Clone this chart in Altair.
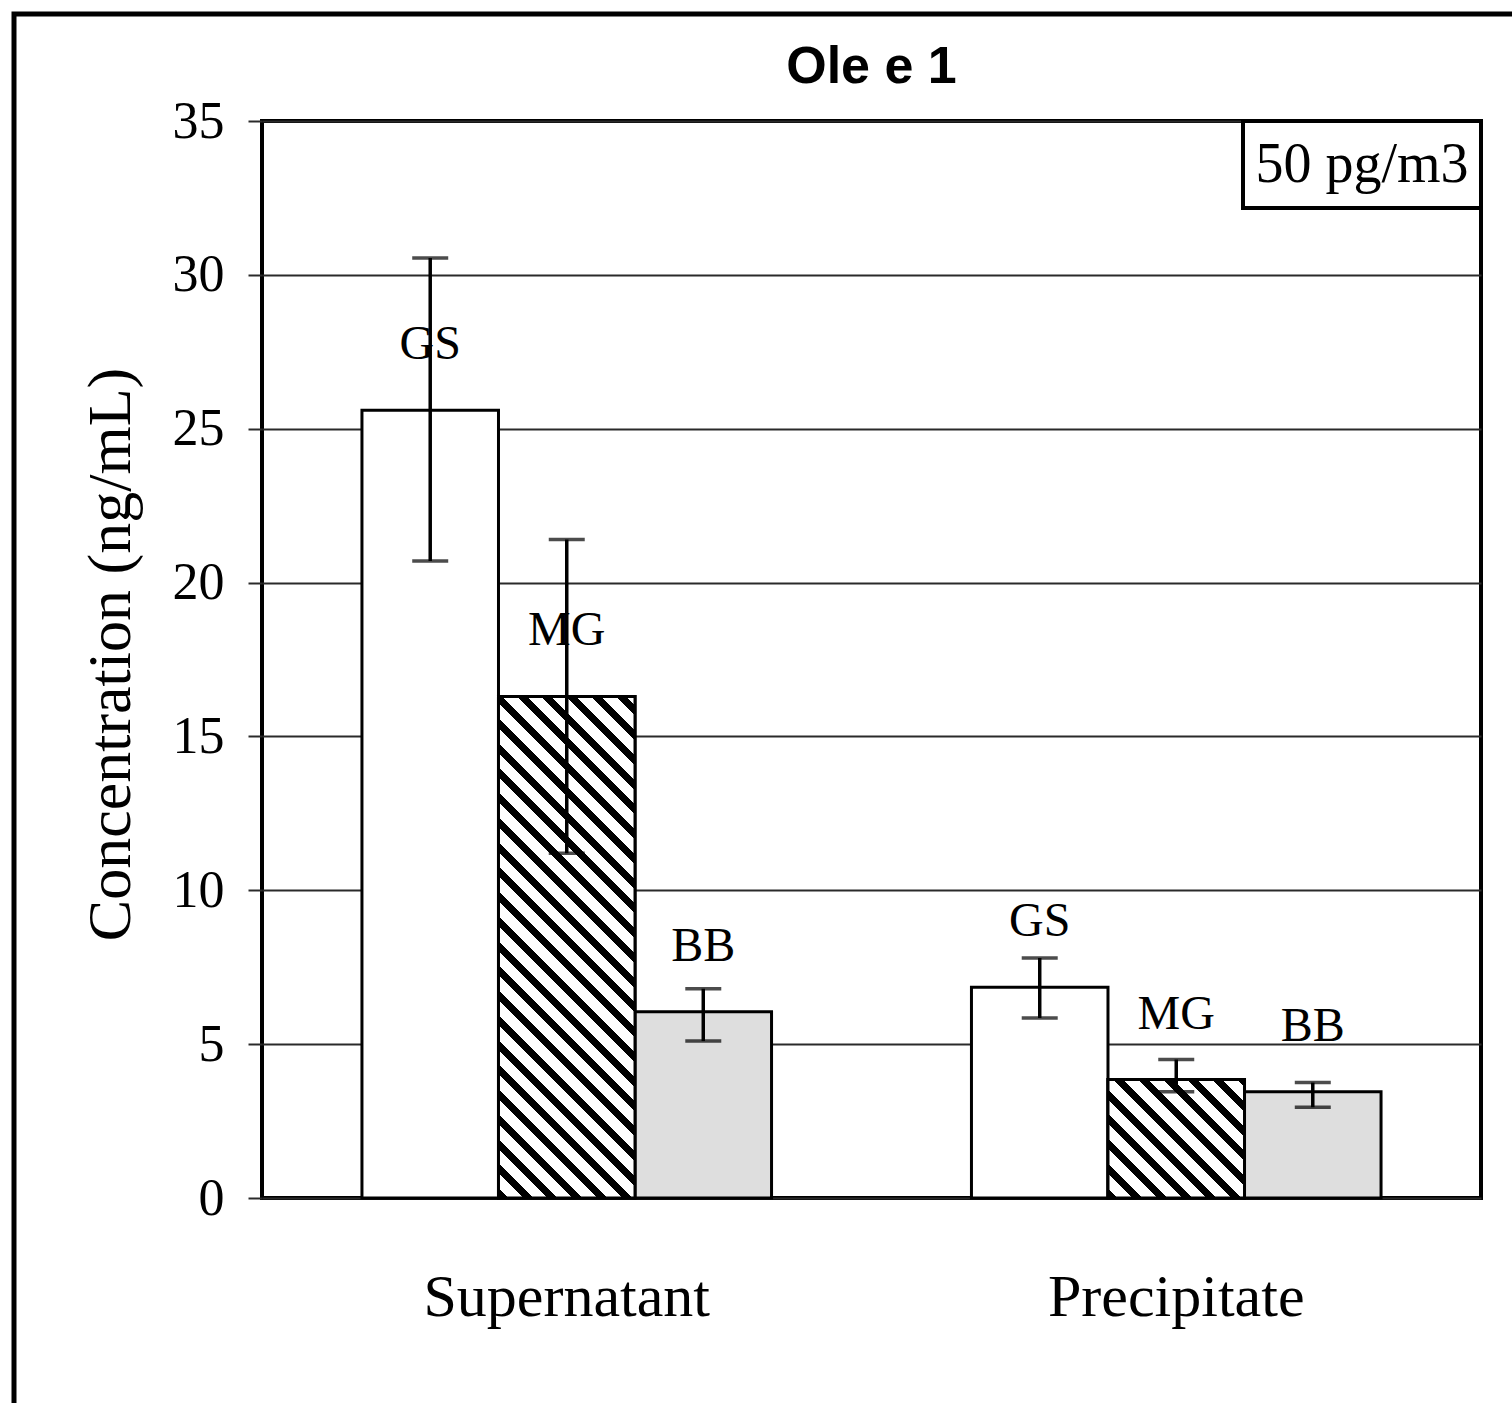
import math
import altair as alt
import pandas as pd

# ---- data ----
groups = ["Supernatant", "Supernatant", "Supernatant", "Precipitate", "Precipitate", "Precipitate"]
series = ["GS", "MG", "BB", "GS", "MG", "BB"]
values = [25.6, 16.3, 6.05, 6.85, 3.85, 3.45]
err_low = [20.7, 11.2, 5.1, 5.85, 3.45, 2.95]
err_high = [30.55, 21.4, 6.8, 7.8, 4.5, 3.75]
group_order = ["Supernatant", "Precipitate"]
series_order = ["GS", "MG", "BB"]
y_ticks = [0, 5, 10, 15, 20, 25, 30, 35]
title_text = "Ole e 1"
y_title = "Concentration (ng/mL)"
box_text = "50 pg/m3"

df = pd.DataFrame({
    "group": groups, "series": series, "value": values,
    "low": err_low, "high": err_high,
})

W, H = 1219, 1077
YMAX = 35
P_INNER, P_OUTER = 0.328, 0.164
SERIF = "Liberation Serif"

step = W / (len(group_order) - P_INNER + 2 * P_OUTER)
bar_w = step * (1 - P_INNER) / len(series_order)


def hatch(v, period=17.5, frac=0.4):
    """45-degree '\\' hatching as a hard-stop linear gradient for a bar of value v."""
    w = bar_w
    h = v * H / YMAX
    k = (w + h) / (w * w + h * h)
    L = (w + h) / math.sqrt(2)
    stops = [alt.GradientStop(offset=0, color="white")]
    i = 0
    while i * period < L:
        a = i * period / L
        b = min(1.0, (i * period + frac * period) / L)
        stops += [
            alt.GradientStop(offset=a, color="white"),
            alt.GradientStop(offset=a, color="black"),
            alt.GradientStop(offset=b, color="black"),
            alt.GradientStop(offset=b, color="white"),
        ]
        i += 1
    stops.append(alt.GradientStop(offset=1, color="white"))
    return alt.LinearGradient(gradient="linear", x1=0, y1=1, x2=k * w, y2=1 - k * h, stops=stops)


x_enc = alt.X(
    "group:N", sort=group_order,
    scale=alt.Scale(paddingInner=P_INNER, paddingOuter=P_OUTER),
    axis=alt.Axis(title=None, labelAngle=0, ticks=False, domain=False,
                  labelFont=SERIF, labelFontSize=60, labelColor="black",
                  labelPadding=70, labelLimit=600),
)
xoff = alt.XOffset("series:N", sort=series_order,
                   scale=alt.Scale(domain=series_order, paddingInner=0, paddingOuter=0))
y_scale = alt.Scale(domain=[0, YMAX], nice=False, zero=True)

base = alt.Chart(df).encode(x=x_enc, xOffset=xoff)

bars = base.mark_bar(stroke="black", strokeWidth=3, opacity=1).encode(
    y=alt.Y("value:Q", scale=y_scale,
            axis=alt.Axis(values=y_ticks, title=y_title, grid=True,
                          gridColor="#2a2a2a", gridWidth=2,
                          tickSize=14, tickWidth=2, tickColor="#2a2a2a",
                          domain=False,
                          labelFont=SERIF, labelFontSize=52, labelColor="black",
                          labelPadding=24,
                          titleFont=SERIF, titleFontSize=62, titleFontWeight="normal",
                          titleColor="black", titleAngle=-90,
                          titleX=-152, titleY=533, titleAlign="center",
                          titleBaseline="middle")),
    fill=alt.Fill("series:N", scale=alt.Scale(domain=series_order,
                                              range=["white", "white", "#dedede"]),
                  legend=None),
)

hatch_layers = []
for g, s, v in zip(groups, series, values):
    if s == "MG":
        hatch_layers.append(
            base.transform_filter((alt.datum.group == g) & (alt.datum.series == s))
            .mark_bar(fill=hatch(v), stroke="black", strokeWidth=3)
            .encode(y=alt.Y("value:Q", scale=y_scale))
        )

labels = base.mark_text(font=SERIF, fontSize=48, color="black", baseline="middle",
                        dy=-65).encode(
    y=alt.Y("value:Q", scale=y_scale), text="series:N")

err = base.mark_rule(color="black", strokeWidth=3.5).encode(
    y=alt.Y("low:Q", scale=y_scale), y2="high:Q")
cap_hi = base.mark_tick(color="black", size=36, thickness=3.5, orient="horizontal").encode(
    y=alt.Y("high:Q", scale=y_scale))
cap_lo = base.mark_tick(color="black", size=36, thickness=3.5, orient="horizontal").encode(
    y=alt.Y("low:Q", scale=y_scale))

one = pd.DataFrame({"k": [0]})
title = alt.Chart(one).mark_text(font="Liberation Sans", fontSize=52, fontWeight="bold",
                                 color="black", align="center", baseline="alphabetic").encode(
    x=alt.value(W / 2), y=alt.value(-38), text=alt.value(title_text))
box = alt.Chart(one).mark_rect(fill="white", stroke="black", strokeWidth=4).encode(
    x=alt.value(981), x2=alt.value(W), y=alt.value(0), y2=alt.value(87))
box_label = alt.Chart(one).mark_text(font=SERIF, fontSize=56, color="black",
                                     align="center", baseline="middle").encode(
    x=alt.value(1100), y=alt.value(44), text=alt.value(box_text))
frame = alt.Chart(one).mark_rect(fill="white", fillOpacity=0, stroke="black",
                                 strokeWidth=5).encode(
    x=alt.value(-248), x2=alt.value(1262), y=alt.value(-107), y2=alt.value(1300))

chart = alt.layer(bars, *hatch_layers, labels, err, cap_hi, cap_lo, box, box_label,
                  title, frame).properties(
    width=W, height=H,
    autosize=alt.AutoSizeParams(type="none"),
    padding={"left": 262, "top": 121, "right": 31, "bottom": 205},
    background="white",
).configure_view(stroke="black", strokeWidth=4)

chart.save("out.html", embed_options={"renderer": "svg", "actions": False})
